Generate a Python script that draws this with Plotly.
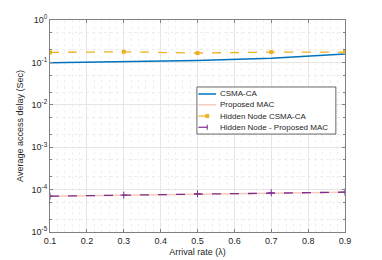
import plotly.graph_objects as go

x = [0.1, 0.3, 0.5, 0.7, 0.9]
csma_ca = [0.098, 0.103, 0.111, 0.126, 0.157]
proposed_mac = [7.0e-5, 7.4e-5, 8.0e-5, 8.4e-5, 8.7e-5]
hidden_csma_ca = [0.172, 0.178, 0.166, 0.175, 0.175]
hidden_proposed = [7.0e-5, 7.4e-5, 8.0e-5, 8.4e-5, 8.7e-5]

series_names = ["CSMA-CA", "Proposed MAC", "Hidden Node CSMA-CA", "Hidden Node - Proposed MAC"]
ytickvals = [1e-5, 1e-4, 1e-3, 1e-2, 1e-1, 1e0]
yticktext = ["10<sup>-5</sup>", "10<sup>-4</sup>", "10<sup>-3</sup>", "10<sup>-2</sup>", "10<sup>-1</sup>", "10<sup>0</sup>"]
xtickvals = [0.1, 0.2, 0.3, 0.4, 0.5, 0.6, 0.7, 0.8, 0.9]

colors = ["#0072BD", "#F6C9BE", "#EDB120", "#7E2F8E"]
dashes = ["solid", "solid", "dash", "dash"]

fig = go.Figure()
fig.add_trace(go.Scatter(x=x, y=csma_ca, name=series_names[0], mode="lines",
                         line=dict(color=colors[0], width=1.5)))
fig.add_trace(go.Scatter(x=x, y=proposed_mac, name=series_names[1], mode="lines",
                         line=dict(color=colors[1], width=1.5)))
fig.add_trace(go.Scatter(x=x, y=hidden_csma_ca, name=series_names[2], mode="lines+markers",
                         line=dict(color=colors[2], width=1.3, dash="dash"),
                         marker=dict(symbol="square", size=4, color=colors[2])))
fig.add_trace(go.Scatter(x=x, y=hidden_proposed, name=series_names[3], mode="lines+markers",
                         line=dict(color=colors[3], width=1.3, dash="dash"),
                         marker=dict(symbol="cross-thin", size=5, color=colors[3],
                                     line=dict(color=colors[3], width=1))))

axis_common = dict(showline=True, linecolor="#808080", linewidth=1, mirror="ticks",
                   ticks="inside", ticklen=3, tickcolor="#808080",
                   showgrid=True, gridcolor="#E6E6E6", gridwidth=1,
                   tickfont=dict(size=9, color="#262626"), zeroline=False, automargin=False)

fig.update_xaxes(range=[0.1, 0.9], tickvals=xtickvals, tickformat=".1f",
                 title=dict(text="Arrival rate (λ)", font=dict(size=9, color="#262626"), standoff=3),
                 minor=dict(dtick=0.02, showgrid=True, gridcolor="#F0F0F0", griddash="dot", ticks=""),
                 **axis_common)
fig.update_yaxes(type="log", range=[-5, 0], tickvals=ytickvals, ticktext=yticktext,
                 title=dict(text="Average access delay (Sec)", font=dict(size=9, color="#262626"), standoff=6),
                 minor=dict(showgrid=True, gridcolor="#EDEDED", griddash="dot", ticks="inside", ticklen=2,
                            tickcolor="#808080"),
                 **axis_common)

# compact legend box (MATLAB style)
shapes = [dict(type="rect", xref="paper", yref="paper", x0=0.498, x1=0.969, y0=0.462, y1=0.684,
               line=dict(color="#262626", width=0.7), fillcolor="white", layer="above")]
annotations = []
row_y = [0.651, 0.600, 0.547, 0.494]
for i, name in enumerate(series_names):
    yy = row_y[i]
    shapes.append(dict(type="line", xref="paper", yref="paper", x0=0.503, x1=0.563, y0=yy, y1=yy,
                       line=dict(color=colors[i], width=1.5 if i < 2 else 1.2, dash=dashes[i]),
                       layer="above"))
    annotations.append(dict(xref="paper", yref="paper", x=0.568, y=yy, text=name, showarrow=False,
                            xanchor="left", yanchor="middle",
                            font=dict(size=8, color="#262626")))
# legend markers
shapes.append(dict(type="rect", xref="paper", yref="paper", x0=0.527, x1=0.539,
                   y0=row_y[2] - 0.008, y1=row_y[2] + 0.008,
                   line=dict(color=colors[2], width=0.5), fillcolor=colors[2], layer="above"))
shapes.append(dict(type="line", xref="paper", yref="paper", x0=0.533, x1=0.533,
                   y0=row_y[3] - 0.012, y1=row_y[3] + 0.012,
                   line=dict(color=colors[3], width=1), layer="above"))

fig.update_layout(width=382, height=260, margin=dict(l=42, r=45, t=12, b=36),
                  paper_bgcolor="white", plot_bgcolor="white",
                  font=dict(family="Liberation Sans, Arial, sans-serif"),
                  showlegend=False, shapes=shapes, annotations=annotations)
fig.write_html("out.html")
